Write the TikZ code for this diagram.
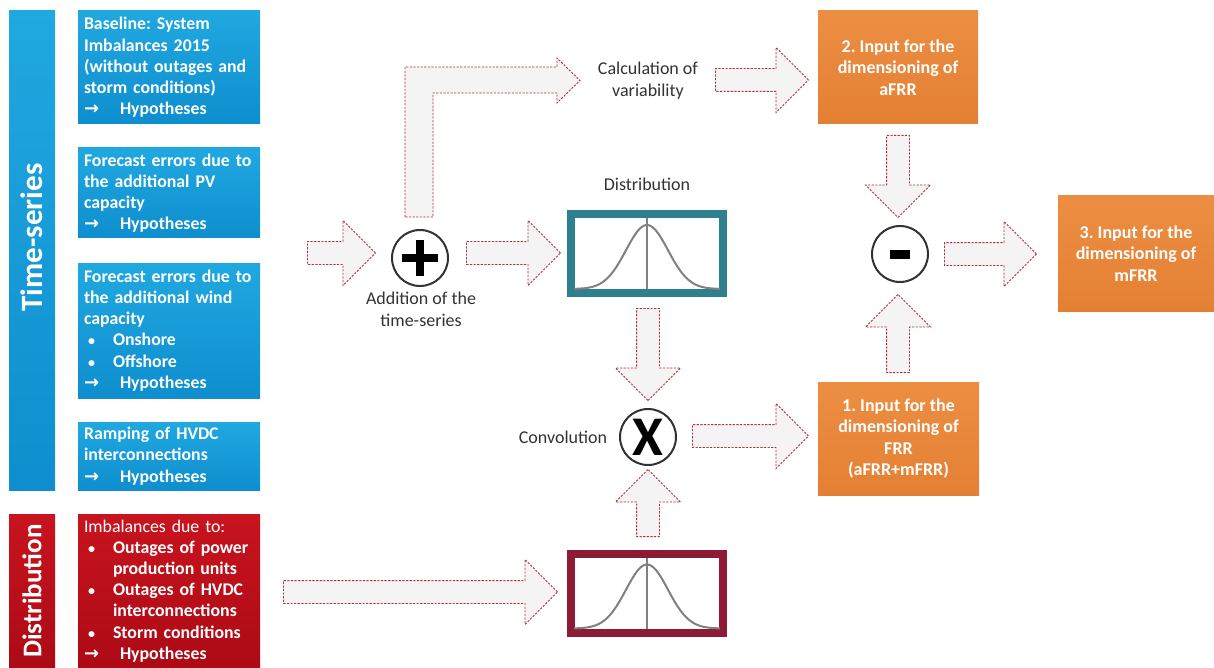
\documentclass[tikz,border=0pt]{standalone}
\usepackage{fontspec}
\setmainfont{Carlito}
\newfontfamily\symfont{DejaVu Sans}
\usetikzlibrary{shapes.arrows,calc}
\frenchspacing

\definecolor{tsblue}{RGB}{32,168,224}
\definecolor{tsbluedark}{RGB}{14,142,206}
\definecolor{distred}{RGB}{200,20,30}
\definecolor{distreddark}{RGB}{172,10,22}
\definecolor{inorange}{RGB}{236,142,66}
\definecolor{inorangedark}{RGB}{228,128,52}
\definecolor{tealframe}{RGB}{46,128,143}
\definecolor{maroonframe}{RGB}{142,27,52}
\definecolor{arrowfill}{RGB}{244,244,244}
\definecolor{arrowline}{RGB}{178,48,60}
\definecolor{labelgrey}{RGB}{50,50,50}
\definecolor{curvegrey}{RGB}{128,128,128}

\newcommand{\hypo}{\makebox[18pt][l]{\symfont\fontsize{9}{10}\selectfont →}Hypotheses}
\newcommand{\bull}{\makebox[14.5pt][l]{\hspace{2pt}\fontsize{7}{10}\selectfont•}}

\tikzset{
  sidebar/.style={inner sep=0pt, text=white, font=\fontsize{15.5}{15.5}\selectfont\bfseries},
  inbox/.style={inner xsep=3pt, inner ysep=0pt, text=white, align=left, text width=85pt,
    minimum width=91pt, font=\fontsize{8.9}{10.6}\selectfont\bfseries},
  outbox/.style={inner sep=0pt, text=white, align=center, top color=inorange, bottom color=inorangedark,
    font=\fontsize{9}{10.8}\selectfont\bfseries},
  distframe/.style={draw, line width=4pt, inner sep=0pt, minimum width=76pt, minimum height=39.5pt},
  opcircle/.style={circle, draw=labelgrey, line width=1pt, minimum size=28pt, inner sep=0pt},
  lbl/.style={text=labelgrey, align=center, font=\fontsize{9}{11}\selectfont},
  barrow/.style={single arrow, draw=arrowline, fill=arrowfill, line width=0.45pt,
    dash pattern=on 1.1pt off 0.7pt, inner xsep=0pt, inner ysep=5.5pt,
    single arrow head extend=10.5pt, single arrow tip angle=90, anchor=tail},
  barrowline/.style={draw=arrowline, fill=arrowfill, line width=0.45pt, dash pattern=on 1.1pt off 0.7pt},
  curve/.style={curvegrey, line width=1pt},
}

\begin{document}
\begin{tikzpicture}[x=0.5pt, y=-0.5pt]
  \useasboundingbox (0,0) rectangle (1214,668);

  % side bars
  \node[sidebar, top color=tsblue, bottom color=tsbluedark, minimum width=239.5pt, minimum height=23pt, rotate=90] (tsbar) at (32,250.5) {\hspace*{13pt}Time-series};
  \node[sidebar, top color=distred, bottom color=distreddark, minimum width=77pt, minimum height=23pt, rotate=90,
    font=\fontsize{13.5}{13.5}\selectfont\bfseries] (distbar) at (32,591) {Distribution};

  % input boxes
  \node[inbox, top color=tsblue, bottom color=tsbluedark, minimum height=56.5pt] (base) at (169,67.5)
    {Baseline: System\\Imbalances 2015\\(without outages and\\storm conditions)\\\hypo};
  \node[inbox, top color=tsblue, bottom color=tsbluedark, minimum height=45pt] (pv) at (169,193)
    {Forecast errors due to\\the additional PV\\capacity\\\hypo};
  \node[inbox, top color=tsblue, bottom color=tsbluedark, minimum height=67.5pt] (wind) at (169,330.5)
    {Forecast errors due to\\the additional wind\\capacity\\\bull Onshore\\\bull Offshore\\\hypo};
  \node[inbox, top color=tsblue, bottom color=tsbluedark, minimum height=34pt] (hvdc) at (169,456)
    {Ramping of HVDC\\interconnections\\\hypo};
  \node[inbox, top color=distred, bottom color=distreddark, minimum height=77pt] (outages) at (169,591)
    {{\mdseries Imbalances due to:}\\\bull Outages of power\\\hspace*{14.5pt}production units\\\bull Outages of HVDC\\\hspace*{14.5pt}interconnections\\\bull Storm conditions\\\hypo};

  % operators
  \node[opcircle] (plus) at (420,258) {};
  \draw[line width=4pt] ($(plus.center)+(-18,0)$) -- ($(plus.center)+(18,0)$);
  \draw[line width=4pt] ($(plus.center)+(0,-18)$) -- ($(plus.center)+(0,18)$);
  \node[opcircle, font=\fontsize{28}{28}\selectfont\bfseries] (conv) at (648,437) {X};
  \node[opcircle] (minus) at (900,254) {};
  \draw[line width=4.5pt] ($(minus.center)+(-10,0)$) -- ($(minus.center)+(10,0)$);

  % distributions
  \node[distframe, draw=tealframe] (dtop) at (647,253.5) {};
  \node[distframe, draw=maroonframe] (dbot) at (647,593) {};
  \foreach \d in {dtop,dbot} {
    \draw[curvegrey, line width=0.7pt] ($(\d.center)+(0,-35.5)$) -- ($(\d.center)+(0,35.5)$);
    \draw[curve, shift={(\d.center)}] plot[domain=-73:73, samples=70] (\x,{35.5-64*exp(-((\x)^2)/882)});
  }

  % outputs
  \node[outbox, minimum width=80pt, minimum height=56.5pt] (afrr) at (898,67.5) {2. Input for the\\dimensioning of\\aFRR};
  \node[outbox, minimum width=80.5pt, minimum height=56.5pt] (frr) at (898.5,438.5) {1. Input for the\\dimensioning of\\FRR\\(aFRR+mFRR)};
  \node[outbox, minimum width=78pt, minimum height=57.5pt] (mfrr) at (1136,253.5) {3. Input for the\\dimensioning of\\mFRR};

  % labels
  \node[lbl] (addlbl) at (421,309) {Addition of the\\time-series};
  \node[lbl] (calc) at (648,81) {Calculation of\\variability};
  \node[lbl] (distlbl) at (647,184) {Distribution};
  \node[lbl] (convlbl) at (563,437) {Convolution};

  % block arrows
  \node[barrow, minimum height=34pt] (ain) at (307,253) {};
  \node[barrow, minimum height=47pt] (adist) at (466,253) {};
  \node[barrow, minimum height=46.5pt] (aafrr) at (715,80) {};
  \node[barrow, minimum height=41pt, rotate=-90] (aminus1) at (898,135) {};
  \node[barrow, minimum height=39pt, rotate=90] (aminus2) at (898,373) {};
  \node[barrow, minimum height=46pt] (amfrr) at (944,254) {};
  \node[barrow, minimum height=46pt, rotate=-90] (aconv1) at (648,308) {};
  \node[barrow, minimum height=33.5pt, rotate=90] (aconv2) at (648,537) {};
  \node[barrow, minimum height=58pt] (afrrin) at (692,436) {};
  \node[barrow, minimum height=137pt] (ared) at (283,592) {};
  \draw[barrowline] (405,217) -- (405,67) -- (557,67) -- (557,58) -- (580,80.5)
    -- (557,103) -- (557,93) -- (433,93) -- (433,217) -- cycle;
\end{tikzpicture}
\end{document}
